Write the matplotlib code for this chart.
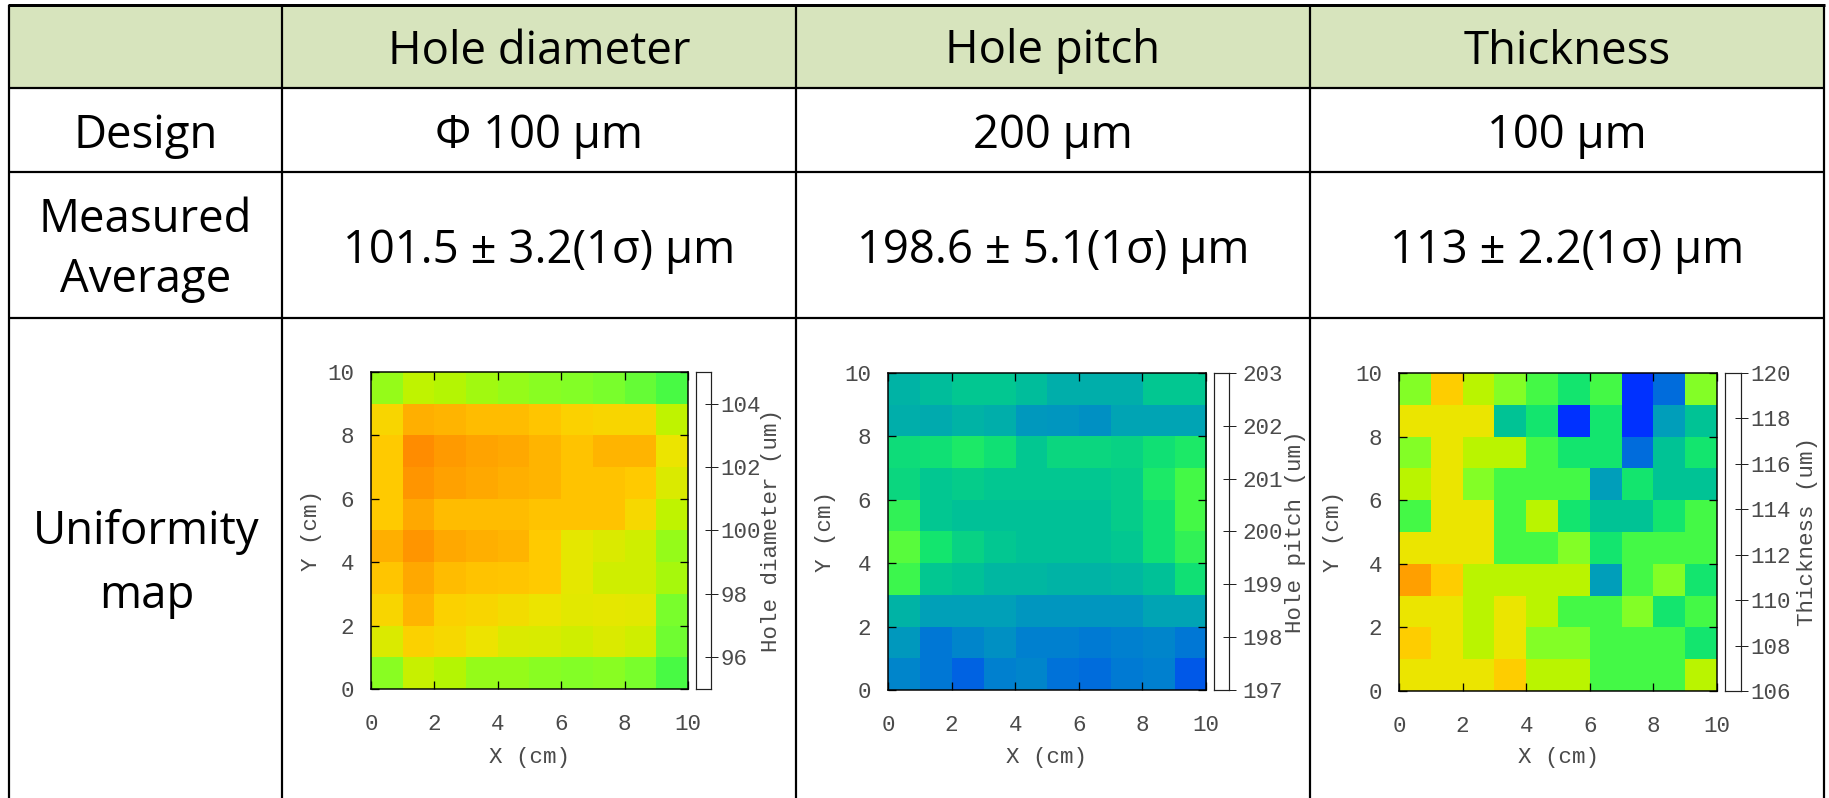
import numpy as np
import matplotlib
matplotlib.use("Agg")
import matplotlib.pyplot as plt
from matplotlib.colors import LinearSegmentedColormap
from matplotlib.patches import Rectangle

# ---------------- data ----------------
col_headers = ["Hole diameter", "Hole pitch", "Thickness"]
design_values = ["Φ 100 µm", "200 µm", "100 µm"]
measured_values = ["101.5 ± 3.2(1σ) µm", "198.6 ± 5.1(1σ) µm", "113 ± 2.2(1σ) µm"]
row_label_design = "Design"
row_label_measured = ["Measured", "Average"]
row_label_map = ["Uniformity", "map"]

# maps: rows listed from top (Y 9-10) to bottom (Y 0-1), columns X 0..9
diameter_map = [
    [100.25, 100.8, 100.65, 100.4, 100.25, 100.1, 100.0, 99.9, 99.65, 99.3],
    [101.9, 102.6, 102.5, 102.4, 102.4, 102.25, 102.0, 101.9, 101.9, 100.8],
    [102.15, 103.3, 103.0, 102.8, 102.7, 102.5, 102.3, 102.5, 102.5, 101.45],
    [102.15, 103.1, 102.85, 102.7, 102.6, 102.5, 102.3, 102.3, 102.15, 101.2],
    [102.15, 102.7, 102.4, 102.4, 102.4, 102.3, 102.3, 102.3, 101.8, 100.8],
    [102.6, 103.1, 102.7, 102.6, 102.5, 102.15, 101.35, 101.2, 101.05, 100.25],
    [102.25, 102.7, 102.4, 102.3, 102.25, 102.15, 101.35, 101.05, 101.05, 100.5],
    [101.9, 102.5, 102.0, 101.9, 101.7, 101.45, 101.3, 101.35, 101.3, 99.9],
    [101.2, 102.0, 101.8, 101.5, 101.2, 101.15, 101.05, 101.2, 101.05, 99.8],
    [100.1, 100.9, 100.65, 100.25, 100.25, 100.1, 100.0, 100.1, 99.9, 99.3],
]
pitch_map = [
    [198.53, 198.65, 198.78, 198.78, 198.65, 198.47, 198.47, 198.47, 198.78, 198.78],
    [198.47, 198.41, 198.53, 198.47, 198.24, 198.20, 198.16, 198.35, 198.35, 198.35],
    [199.02, 199.08, 199.22, 199.08, 198.78, 198.96, 198.96, 198.90, 199.08, 199.22],
    [198.96, 198.78, 198.84, 198.78, 198.78, 198.78, 198.78, 198.84, 199.22, 199.57],
    [199.40, 198.78, 198.71, 198.71, 198.71, 198.71, 198.71, 198.84, 199.08, 199.57],
    [199.70, 199.14, 198.90, 198.78, 198.71, 198.71, 198.71, 198.78, 199.08, 199.40],
    [199.49, 198.78, 198.71, 198.59, 198.59, 198.53, 198.53, 198.59, 198.71, 199.08],
    [198.53, 198.29, 198.29, 198.29, 198.20, 198.20, 198.20, 198.20, 198.35, 198.35],
    [198.24, 197.94, 198.07, 198.16, 198.03, 198.03, 197.98, 198.03, 198.07, 197.94],
    [198.07, 197.94, 197.79, 198.03, 198.07, 197.90, 197.86, 197.98, 198.03, 197.71],
]
thickness_map = [
    [113, 116, 114, 113, 112, 111, 112, 107, 108, 113],
    [115, 115, 115, 110, 111, 107, 111, 107, 109, 110],
    [113, 115, 114, 114, 112, 111, 111, 108, 110, 111],
    [114, 115, 113, 112, 112, 112, 109, 111, 110, 110],
    [112, 115, 115, 112, 114, 111, 110, 110, 111, 112],
    [115, 115, 115, 112, 112, 113, 111, 112, 112, 112],
    [117, 116, 114, 114, 114, 114, 109, 112, 113, 111],
    [115, 115, 114, 115, 114, 112, 112, 113, 111, 112],
    [116, 115, 114, 115, 113, 113, 112, 112, 112, 111],
    [115, 115, 115, 116, 114, 114, 112, 112, 112, 114],
]
cbar_labels = ["Hole diameter (um)", "Hole pitch (um)", "Thickness (um)"]
cbar_ranges = [(95, 105), (197, 203), (106, 120)]
cbar_ticks = [[96, 98, 100, 102, 104],
              [197, 198, 199, 200, 201, 202, 203],
              [106, 108, 110, 112, 114, 116, 118, 120]]
axis_ticks = [0, 2, 4, 6, 8, 10]

# ---------------- style ----------------
W, H, DPI = 1829, 798, 100
PX = 72.0 / DPI  # points per pixel

cmap_pos = [0.0, 0.0714, 0.143, 0.214, 0.286, 0.357, 0.429, 0.5, 0.571,
            0.643, 0.714, 0.786, 0.857, 1.0]
cmap_rgb = [(0, 0, 255), (0, 50, 255), (0, 110, 220), (0, 160, 185),
            (0, 195, 150), (20, 230, 110), (70, 250, 70), (130, 255, 40),
            (185, 245, 0), (235, 230, 0), (255, 205, 0), (255, 160, 0),
            (255, 130, 0), (255, 70, 0)]
cmap = LinearSegmentedColormap.from_list(
    "gp", [(p, tuple(c / 255 for c in rgb)) for p, rgb in zip(cmap_pos, cmap_rgb)])

TFONT = "Open Sans"
TSIZE = 45.5 * PX
MFONT = "Liberation Mono"
MSIZE = 22.5 * PX
MCOL = "#4a4a4a"

fig = plt.figure(figsize=(W / DPI, H / DPI), dpi=DPI)
bg = fig.add_axes([0, 0, 1, 1])
bg.set_xlim(0, W)
bg.set_ylim(H, 0)
bg.axis("off")

xs = [9, 282, 796, 1310, 1824]
ys = [5, 88, 172, 318]

bg.add_patch(Rectangle((xs[0], ys[0]), xs[-1] - xs[0], ys[1] - ys[0],
                       facecolor="#D7E4BD", edgecolor="none", zorder=0))
lw = 2.2 * PX
for y in ys:
    bg.plot([xs[0] - 1, xs[-1] + 1], [y, y], color="black",
            lw=(3.0 * PX if y == ys[0] else lw), solid_capstyle="butt", zorder=2)
for x in xs:
    bg.plot([x, x], [ys[0], H + 2], color="black", lw=lw,
            solid_capstyle="butt", zorder=2)

centers = [(xs[i] + xs[i + 1]) / 2 for i in range(4)]
for i in range(3):
    bg.text(centers[i + 1], 63.5, col_headers[i], family=TFONT, size=TSIZE,
            ha="center", va="baseline")
    bg.text(centers[i + 1], 148, design_values[i], family=TFONT, size=TSIZE,
            ha="center", va="baseline")
    bg.text(centers[i + 1], 263, measured_values[i], family=TFONT, size=TSIZE,
            ha="center", va="baseline")
bg.text(centers[0], 148, row_label_design, family=TFONT, size=TSIZE,
        ha="center", va="baseline")
bg.text(centers[0], 232, row_label_measured[0], family=TFONT, size=TSIZE,
        ha="center", va="baseline")
bg.text(centers[0], 292, row_label_measured[1], family=TFONT, size=TSIZE,
        ha="center", va="baseline")
bg.text(centers[0] + 1, 544, row_label_map[0], family=TFONT, size=TSIZE,
        ha="center", va="baseline")
bg.text(centers[0] + 1, 608, row_label_map[1], family=TFONT, size=TSIZE,
        ha="center", va="baseline")

# heatmap panels (pixel boxes)
map_boxes = [(371, 372, 688, 689), (888, 373, 1206, 690), (1399, 373, 1717, 691)]
cbar_boxes = [(696, 711), (1214, 1229), (1725, 1741)]
cbar_label_x = [771, 1295, 1807]
cbar_pads = [3.0, 7.0, 3.0]
ylabel_x = [311, 826, 1334]
maps = [diameter_map, pitch_map, thickness_map]


def fbox(l, t, r, b):
    return [l / W, 1 - b / H, (r - l) / W, (b - t) / H]


for k in range(3):
    l, t, r, b = map_boxes[k]
    ax = fig.add_axes(fbox(l, t, r, b))
    vmin, vmax = cbar_ranges[k]
    ax.imshow(np.array(maps[k], dtype=float), extent=(0, 10, 0, 10), origin="upper",
              cmap=cmap, vmin=vmin, vmax=vmax, aspect="auto", interpolation="nearest")
    ax.set_xlim(0, 10)
    ax.set_ylim(0, 10)
    ax.set_xticks(axis_ticks)
    ax.set_yticks(axis_ticks)
    ax.tick_params(direction="in", length=8 * PX, width=1.3 * PX, color="black",
                   top=True, right=True, labelsize=MSIZE, labelcolor=MCOL)
    ax.tick_params(axis="x", pad=25 * PX)
    ax.tick_params(axis="y", pad=17 * PX)
    for lab in ax.get_xticklabels() + ax.get_yticklabels():
        lab.set_family(MFONT)
    for s in ax.spines.values():
        s.set_linewidth(1.5 * PX)
        s.set_color("black")
    ax.set_xlabel("X (cm)", family=MFONT, size=MSIZE, color=MCOL)
    ax.set_ylabel("Y (cm)", family=MFONT, size=MSIZE, color=MCOL)
    ax.xaxis.set_label_coords(0.5, (b - 758) / (b - t))
    ax.xaxis.label.set_va("center")
    ax.yaxis.set_label_coords((ylabel_x[k] - l) / (r - l), 0.5)
    ax.yaxis.label.set_va("center")

    cl, cr = cbar_boxes[k]
    cax = fig.add_axes(fbox(cl, t, cr, b))
    cax.set_facecolor("white")
    cax.set_xlim(0, 1)
    cax.set_ylim(vmin, vmax)
    cax.set_xticks([])
    cax.set_yticks(cbar_ticks[k])
    cax.yaxis.tick_right()
    cax.tick_params(axis="y", direction="inout", length=13 * PX, width=1.0 * PX,
                    color="#222222", labelsize=MSIZE, labelcolor=MCOL,
                    pad=cbar_pads[k] * PX)
    for lab in cax.get_yticklabels():
        lab.set_family(MFONT)
    for s in cax.spines.values():
        s.set_linewidth(1.2 * PX)
        s.set_color("#222222")
    cax.set_ylabel(cbar_labels[k], family=MFONT, size=MSIZE, color=MCOL,
                   rotation=90)
    cax.yaxis.set_label_position("right")
    cax.yaxis.set_label_coords((cbar_label_x[k] - cl) / (cr - cl), 0.5)
    cax.yaxis.label.set_va("center")
    cax.yaxis.label.set_ha("center")

fig.savefig("out.png", dpi=DPI, facecolor="white")
